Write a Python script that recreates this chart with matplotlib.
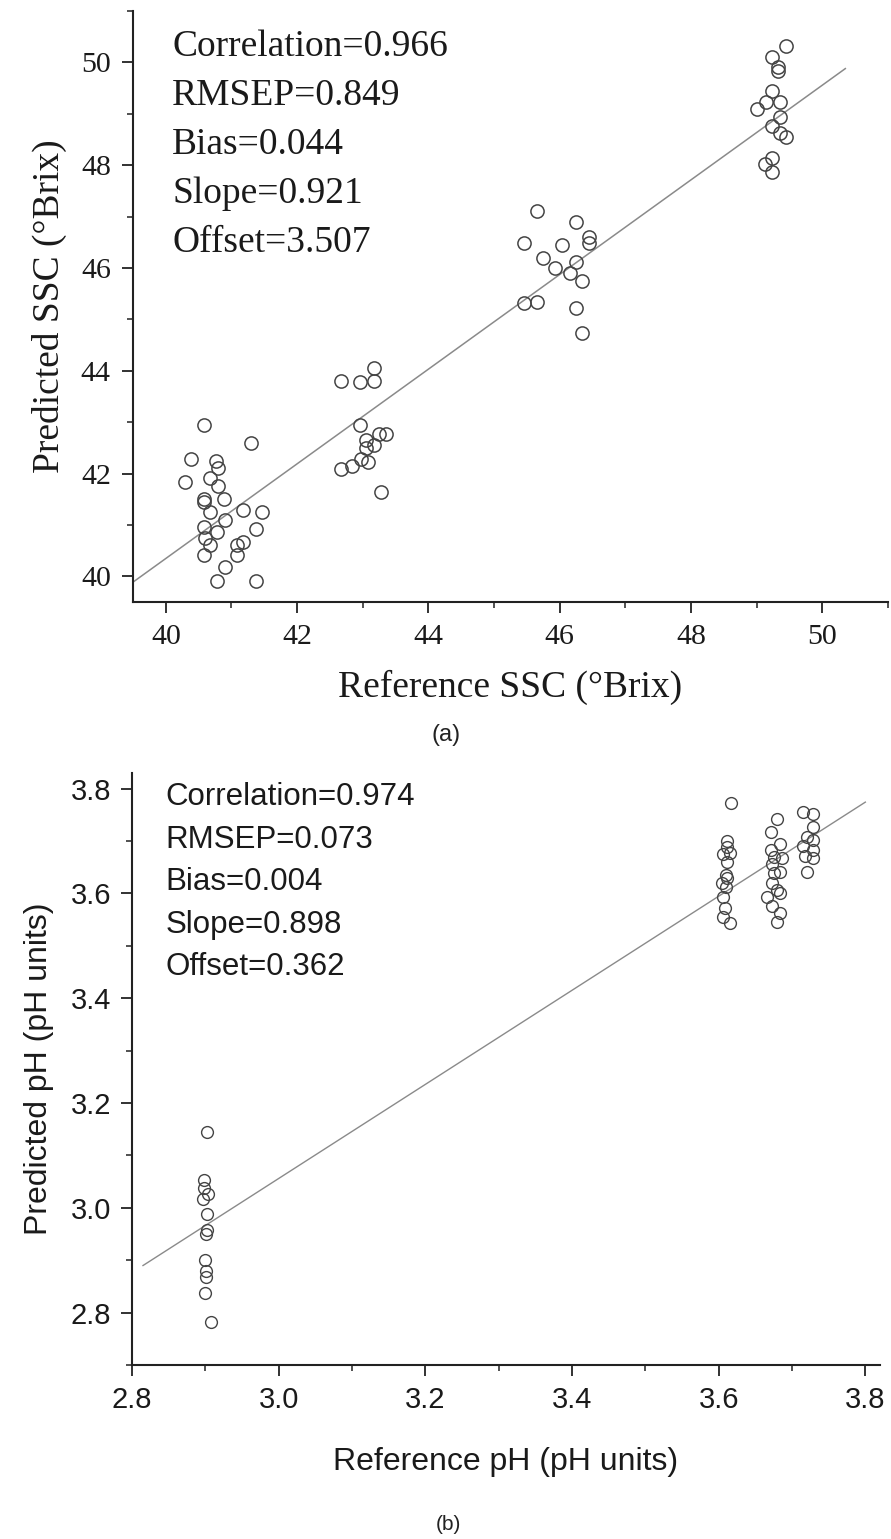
import matplotlib
matplotlib.use("Agg")
import matplotlib.pyplot as plt
from matplotlib.ticker import MultipleLocator

# (a) SSC, °Brix
ssc_ref = [40.58, 41.29, 40.38, 40.77, 40.79, 40.29, 40.67, 40.79, 40.58, 40.88,
           40.58, 40.68, 41.17, 41.47, 40.90, 40.58, 40.78, 41.38, 40.59, 40.68,
           41.08, 41.17, 40.58, 41.08, 40.90, 40.78, 41.38,
           42.67, 42.96, 43.17, 43.17, 42.96, 43.25, 43.36, 43.05, 43.17, 43.05,
           42.97, 43.08, 42.84, 42.67, 43.27,
           45.65, 46.25, 46.45, 46.45, 45.45, 46.04, 45.75, 46.25, 45.93, 46.15,
           46.34, 45.45, 45.65, 46.25, 46.34,
           49.44, 49.23, 49.33, 49.33, 49.23, 49.14, 49.01, 49.35, 49.35, 49.23,
           49.35, 49.44, 49.23, 49.12, 49.24]
ssc_pred = [42.95, 42.60, 42.29, 42.25, 42.11, 41.84, 41.92, 41.76, 41.51, 41.51,
            41.45, 41.25, 41.29, 41.25, 41.10, 40.96, 40.86, 40.92, 40.74, 40.61,
            40.61, 40.67, 40.41, 40.41, 40.18, 39.90, 39.90,
            43.80, 43.78, 44.05, 43.80, 42.94, 42.76, 42.76, 42.66, 42.56, 42.49,
            42.29, 42.23, 42.15, 42.09, 41.65,
            47.10, 46.89, 46.60, 46.48, 46.48, 46.44, 46.20, 46.11, 45.99, 45.91,
            45.75, 45.32, 45.34, 45.22, 44.73,
            50.31, 50.10, 49.84, 49.92, 49.45, 49.22, 49.10, 49.22, 48.94, 48.77,
            48.63, 48.55, 48.14, 48.02, 47.87]
ssc_stats = ["Correlation=0.966", "RMSEP=0.849", "Bias=0.044",
             "Slope=0.921", "Offset=3.507"]
ssc_slope, ssc_offset = 0.921, 3.507
ssc_line_x = [39.5, 50.35]

# (b) pH
ph_ref = [2.902, 2.898, 2.898, 2.904, 2.897, 2.902, 2.902, 2.901, 2.900, 2.901,
          2.901, 2.900, 2.908,
          3.617, 3.612, 3.612, 3.606, 3.615, 3.612, 3.610, 3.612, 3.605, 3.610,
          3.606, 3.609, 3.606, 3.615,
          3.680, 3.672, 3.672, 3.684, 3.675, 3.687, 3.673, 3.675, 3.684, 3.673,
          3.680, 3.666, 3.684, 3.673, 3.684, 3.679,
          3.715, 3.729, 3.729, 3.721, 3.729, 3.715, 3.728, 3.718, 3.728, 3.720]
ph_pred = [3.144, 3.054, 3.037, 3.026, 3.016, 2.989, 2.957, 2.951, 2.901, 2.880,
           2.868, 2.838, 2.783,
           3.773, 3.701, 3.689, 3.676, 3.678, 3.661, 3.636, 3.630, 3.620, 3.613,
           3.593, 3.572, 3.555, 3.544,
           3.743, 3.718, 3.683, 3.695, 3.670, 3.668, 3.657, 3.639, 3.641, 3.620,
           3.607, 3.593, 3.601, 3.576, 3.563, 3.546,
           3.756, 3.752, 3.727, 3.708, 3.702, 3.691, 3.683, 3.672, 3.668, 3.641]
ph_stats = ["Correlation=0.974", "RMSEP=0.073", "Bias=0.004",
            "Slope=0.898", "Offset=0.362"]
ph_slope, ph_offset = 0.898, 0.362
ph_line_x = [2.815, 3.80]

W, H = 891, 1539
fig = plt.figure(figsize=(W / 100, H / 100), dpi=100)


def px_rect(left, top, right, bottom):
    return [left / W, 1 - bottom / H, (right - left) / W, (bottom - top) / H]


serif = ["Liberation Serif", "DejaVu Serif"]
sans = ["Liberation Sans", "DejaVu Sans"]


def style_axes(ax, family, size, pad):
    for side in ("top", "right"):
        ax.spines[side].set_visible(False)
    for side in ("left", "bottom"):
        ax.spines[side].set_linewidth(1.5)
        ax.spines[side].set_color("#222222")
    ax.tick_params(which="major", direction="out", length=8, width=1.3,
                   color="#222222", labelsize=size, pad=pad)
    ax.tick_params(which="minor", direction="out", length=4.5, width=1.1,
                   color="#222222")
    for lab in ax.get_xticklabels() + ax.get_yticklabels():
        lab.set_family(family)
        lab.set_color("#1a1a1a")


# ---- panel (a)
ax1 = fig.add_axes(px_rect(133, 11, 888, 602))
ax1.plot(ssc_line_x, [ssc_slope * x + ssc_offset for x in ssc_line_x],
         color="#8a8a8a", lw=1.1)
ax1.plot(ssc_ref, ssc_pred, "o", ms=9.5, mfc="none", mec="#444444", mew=1.1)
ax1.set_xlim(39.5, 51)
ax1.set_ylim(39.5, 51)
ax1.set_xticks([40, 42, 44, 46, 48, 50])
ax1.set_yticks([40, 42, 44, 46, 48, 50])
ax1.xaxis.set_minor_locator(MultipleLocator(1))
ax1.yaxis.set_minor_locator(MultipleLocator(1))
style_axes(ax1, serif, 21.5, 8)
ax1.set_xlabel("Reference SSC (°Brix)", family=serif, fontsize=27,
               color="#1a1a1a", labelpad=14)
ax1.set_ylabel("Predicted SSC (°Brix)", family=serif, fontsize=27,
               color="#1a1a1a", labelpad=10)
for i, s in enumerate(ssc_stats):
    ax1.text(0.052, 1 - (56 + i * 49 - 11) / 591, s, transform=ax1.transAxes,
             family=serif, fontsize=27, color="#1a1a1a", va="baseline")
fig.text(446 / W, 1 - 735 / H, "(a)", family=sans, fontsize=17,
         ha="center", va="center", color="#222222")

# ---- panel (b)
ax2 = fig.add_axes(px_rect(132, 773, 880, 1365))
ax2.plot(ph_line_x, [ph_slope * x + ph_offset for x in ph_line_x],
         color="#8a8a8a", lw=1.0)
ax2.plot(ph_ref, ph_pred, "o", ms=8.5, mfc="none", mec="#444444", mew=1.0)
ax2.set_xlim(2.8, 3.82)
ax2.set_ylim(2.7, 3.83)
ax2.set_xticks([2.8, 3.0, 3.2, 3.4, 3.6, 3.8])
ax2.set_yticks([2.8, 3.0, 3.2, 3.4, 3.6, 3.8])
ax2.xaxis.set_minor_locator(MultipleLocator(0.1))
ax2.yaxis.set_minor_locator(MultipleLocator(0.1))
ax2.xaxis.set_major_formatter(plt.FormatStrFormatter("%.1f"))
ax2.yaxis.set_major_formatter(plt.FormatStrFormatter("%.1f"))
style_axes(ax2, sans, 21, 7)
ax2.set_xlabel("Reference pH (pH units)", family=sans, fontsize=23,
               color="#1a1a1a", labelpad=24)
ax2.set_ylabel("Predicted pH (pH units)", family=sans, fontsize=23,
               color="#1a1a1a", labelpad=12)
for i, s in enumerate(ph_stats):
    ax2.text(0.045, 0.985 - i * 0.072, s, transform=ax2.transAxes,
             family=sans, fontsize=22.5, color="#1a1a1a", va="top")
fig.text(448 / W, 1 - 1525 / H, "(b)", family=sans, fontsize=15,
         ha="center", va="center", color="#222222")

fig.savefig("out.png", dpi=100)
